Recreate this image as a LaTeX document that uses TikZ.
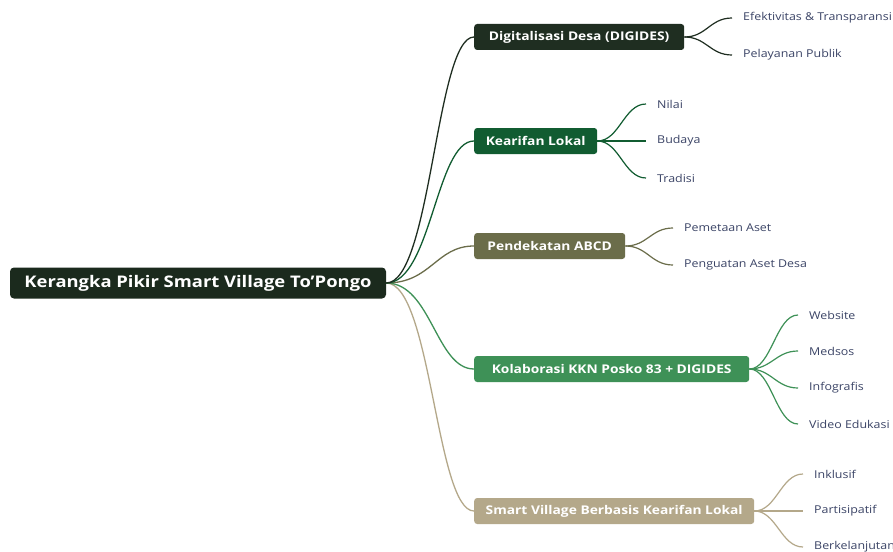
\documentclass[tikz,border=0pt]{standalone}
\usepackage{fontspec}
\setmainfont{Open Sans}[FakeStretch=1.15]
\definecolor{rootc}{HTML}{1B2A1D}
\definecolor{ca}{HTML}{1F2E21}
\definecolor{cb}{HTML}{115C31}
\definecolor{cc}{HTML}{6B6D4A}
\definecolor{cd}{HTML}{3E9157}
\definecolor{ce}{HTML}{B4A88A}
\definecolor{leaftext}{HTML}{3B4466}
\begin{document}
\begin{tikzpicture}[x=1pt,y=-1pt,
  rootbox/.style={draw=none,fill=rootc,rounded corners=4pt,text=white,font=\fontsize{16}{19}\selectfont\bfseries,minimum width=376pt,minimum height=31pt,inner sep=0pt},
  branchbox/.style={draw=none,rounded corners=3pt,text=white,font=\fontsize{12}{15}\selectfont\bfseries,minimum height=26pt,inner sep=0pt,anchor=west},
  leafnode/.style={text=leaftext,font=\fontsize{10.8}{13}\selectfont,anchor=west,inner xsep=11pt,inner ysep=2pt},
  rootlink/.style={line width=1.3pt},
  leaflink/.style={line width=1.2pt}]
\useasboundingbox (0,0) rectangle (893,551);
\fill[white] (0,0) rectangle (893,551);

\node[rootbox] (root) at (198,283) {Kerangka Pikir Smart Village To'Pongo};

\node[branchbox,fill=ca,minimum width=210pt] (b1) at (474,37) {Digitalisasi Desa (DIGIDES)};
\node[branchbox,fill=cb,minimum width=123pt] (b2) at (474,141) {Kearifan Lokal};
\node[branchbox,fill=cc,minimum width=151pt] (b3) at (474,246) {Pendekatan ABCD};
\node[branchbox,fill=cd,minimum width=275pt] (b4) at (474,369) {Kolaborasi KKN Posko 83 + DIGIDES};
\node[branchbox,fill=ce,minimum width=280pt] (b5) at (474,511) {Smart Village Berbasis Kearifan Lokal};

\node[leafnode] (l11) at (732,18) {Efektivitas \& Transparansi};
\node[leafnode] (l12) at (732,55) {Pelayanan Publik};
\node[leafnode] (l21) at (646,104) {Nilai};
\node[leafnode] (l22) at (646,141) {Budaya};
\node[leafnode] (l23) at (646,178) {Tradisi};
\node[leafnode] (l31) at (673,228) {Pemetaan Aset};
\node[leafnode] (l32) at (673,265) {Penguatan Aset Desa};
\node[leafnode] (l41) at (798,315) {Website};
\node[leafnode] (l42) at (798,351) {Medsos};
\node[leafnode] (l43) at (798,388) {Infografis};
\node[leafnode] (l44) at (798,424) {Video Edukasi};
\node[leafnode] (l51) at (803,474) {Inklusif};
\node[leafnode] (l52) at (803,511) {Partisipatif};
\node[leafnode] (l53) at (803,547) {Berkelanjutan};

\draw[rootlink,ce] (root.east) .. controls +(45,0) and +(-38,0) .. (b5.west);
\draw[rootlink,cd] (root.east) .. controls +(45,0) and +(-38,0) .. (b4.west);
\draw[rootlink,cc] (root.east) .. controls +(45,0) and +(-38,0) .. (b3.west);
\draw[rootlink,cb] (root.east) .. controls +(45,0) and +(-38,0) .. (b2.west);
\draw[rootlink,ca] (root.east) .. controls +(45,0) and +(-38,0) .. (b1.west);

\foreach \b/\l/\c in {b1/l11/ca,b1/l12/ca,b2/l21/cb,b2/l22/cb,b2/l23/cb,b3/l31/cc,b3/l32/cc,b4/l41/cd,b4/l42/cd,b4/l43/cd,b4/l44/cd,b5/l51/ce,b5/l52/ce,b5/l53/ce}
  \draw[leaflink,\c] (\b.east) .. controls +(22,0) and +(-22,0) .. (\l.west);
\end{tikzpicture}
\end{document}
